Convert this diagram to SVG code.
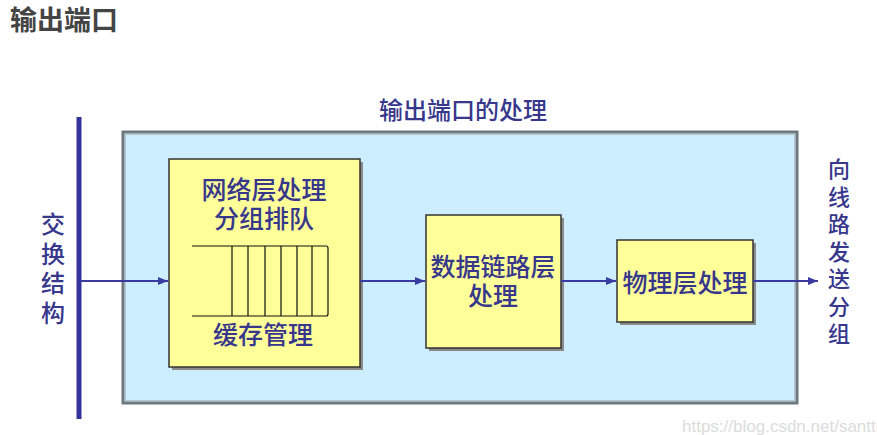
<svg xmlns="http://www.w3.org/2000/svg" width="877" height="435" viewBox="0 0 877 435">
<style>
.t{font-family:"Noto Sans CJK SC","Noto Sans",sans-serif;fill:#37378c;font-size:24px;font-weight:500;text-anchor:middle}
.box{fill:#ffff99;stroke:#333;stroke-width:1.5}
.sh{fill:#8a8a8a}
.q{stroke:#111;stroke-width:1.2;fill:none}
.c{stroke:#3a3aa0;stroke-width:2;fill:none;marker-end:url(#ah)}
</style>
<defs>
<marker id="ah" viewBox="0 0 10 10" refX="10" refY="5" markerWidth="5" markerHeight="5" orient="auto" markerUnits="strokeWidth">
<path d="M0,1 L10,5 L0,9 z" fill="#3a3aa0"/>
</marker>
</defs>
<rect width="877" height="435" fill="#ffffff"/>
<text x="10" y="30" style="font-family:'Noto Sans CJK SC',sans-serif;font-weight:bold;font-size:27px;fill:#444">输出端口</text>

<g id="outer">
<rect x="123" y="132" width="674" height="271" fill="#cdeefe" stroke="#6e7880" stroke-width="3"/>
<rect x="125.5" y="134.5" width="669" height="266" fill="none" stroke="#b8c4cc" stroke-width="1"/>
<text class="t" x="463" y="119">输出端口的处理</text>
</g>

<g id="bar">
<rect x="76.5" y="117" width="5" height="302" fill="#333399"/>
</g>

<g id="left-label">
<text class="t" x="53" y="233">交</text>
<text class="t" x="53" y="263">换</text>
<text class="t" x="53" y="292">结</text>
<text class="t" x="53" y="322">构</text>
</g>

<g id="right-label">
<text class="t" x="839" y="177" style="font-size:22px">向</text>
<text class="t" x="839" y="205" style="font-size:22px">线</text>
<text class="t" x="839" y="232" style="font-size:22px">路</text>
<text class="t" x="839" y="260" style="font-size:22px">发</text>
<text class="t" x="839" y="287" style="font-size:22px">送</text>
<text class="t" x="839" y="315" style="font-size:22px">分</text>
<text class="t" x="839" y="342" style="font-size:22px">组</text>
</g>

<g id="network-layer">
<rect class="sh" x="172" y="162" width="191" height="208"/>
<rect class="box" x="169" y="159" width="191" height="208"/>
<text class="t" x="264" y="199" style="font-size:25px">网络层处理</text>
<text class="t" x="264" y="228" style="font-size:25px">分组排队</text>
<path class="q" d="M192,246 H326 Q328,246 328,248 V314 Q328,316 326,316 H192"/>
<path class="q" d="M232,246 V316 M248,246 V316 M265,246 V316 M281,246 V316 M297,246 V316 M312,246 V316"/>
<text class="t" x="263" y="344" style="font-size:25px">缓存管理</text>
</g>

<g id="datalink-layer">
<rect class="sh" x="429" y="218" width="135" height="133"/>
<rect class="box" x="426" y="215" width="135" height="133"/>
<text class="t" x="493" y="276" style="font-size:25px">数据链路层</text>
<text class="t" x="493" y="305" style="font-size:25px">处理</text>
</g>

<g id="physical-layer">
<rect class="sh" x="620" y="243" width="136" height="82"/>
<rect class="box" x="617" y="240" width="136" height="82"/>
<text class="t" x="685" y="292" style="font-size:25px">物理层处理</text>
</g>

<g id="connectors">
<line class="c" x1="81" y1="281" x2="168" y2="281"/>
<line class="c" x1="360" y1="281" x2="425" y2="281"/>
<line class="c" x1="561" y1="281" x2="616" y2="281"/>
<line class="c" x1="753" y1="281" x2="818" y2="281"/>
</g>

<text x="682" y="432" style="font-family:'Liberation Sans',sans-serif;font-size:17px;fill:#dcdcdc">https://blog.csdn.net/santto</text>
</svg>
